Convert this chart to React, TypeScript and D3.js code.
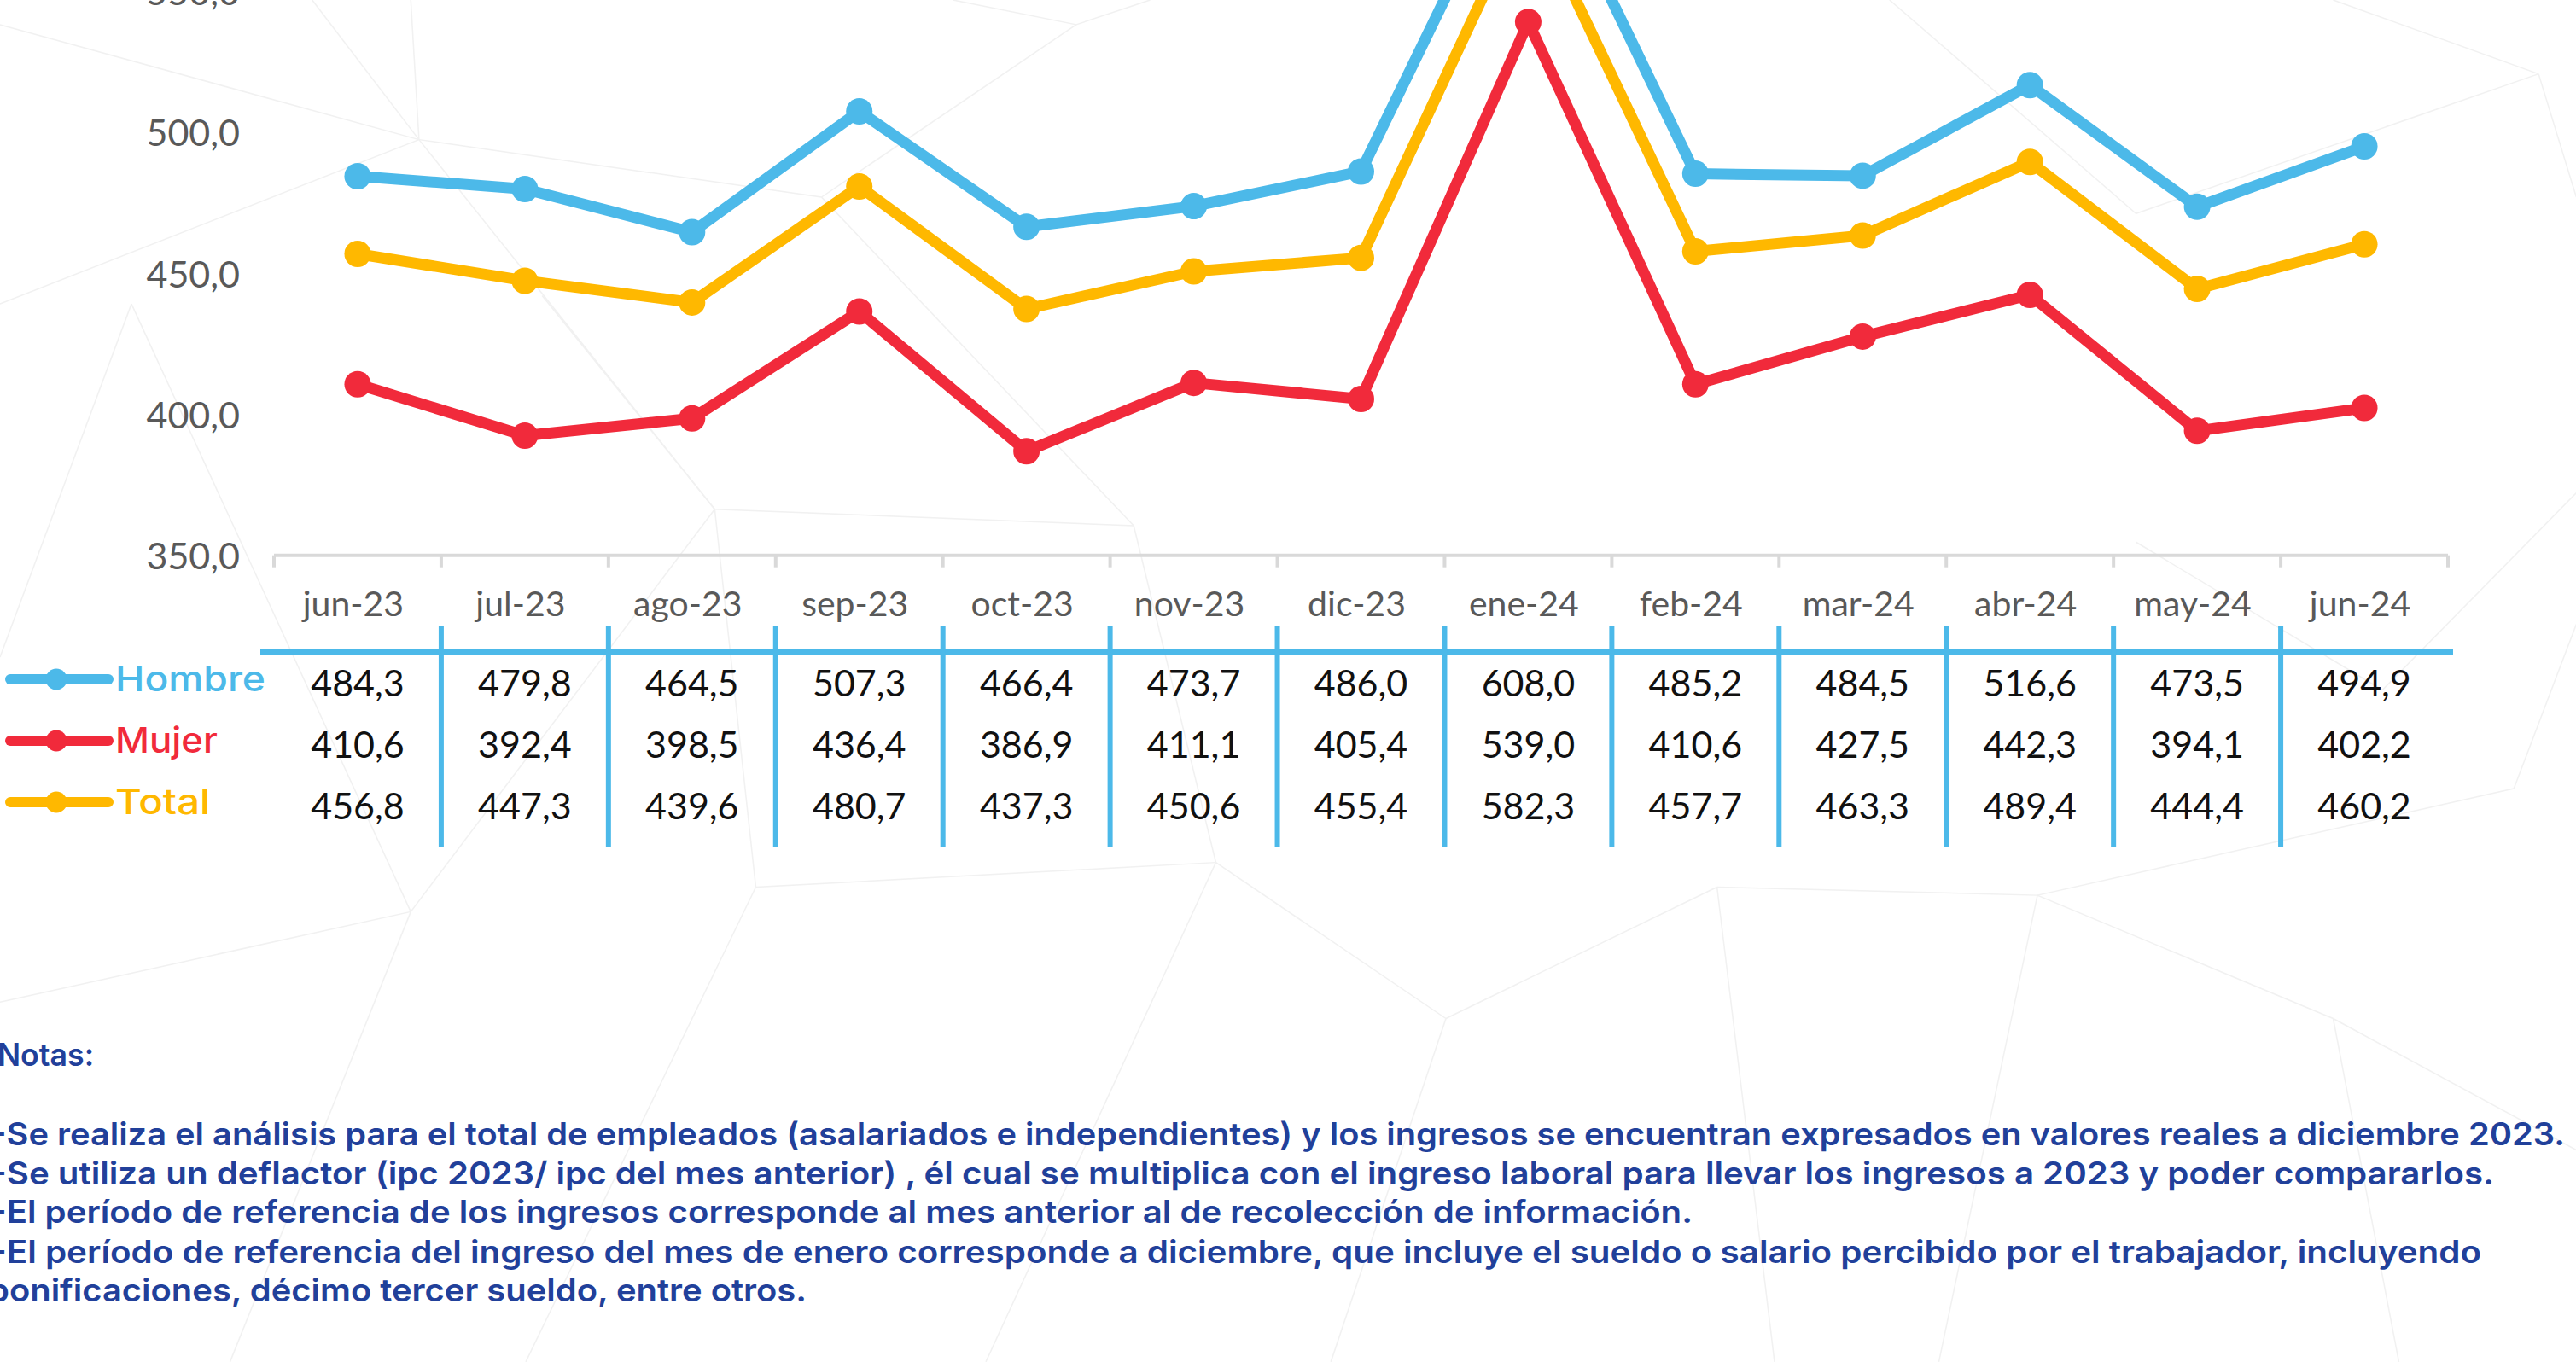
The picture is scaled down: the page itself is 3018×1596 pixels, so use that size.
import React, { useEffect } from 'react';
import * as d3 from 'd3';

// ── Data ────────────────────────────────────────────────────────────────────
const MONTHS = ['jun-23', 'jul-23', 'ago-23', 'sep-23', 'oct-23', 'nov-23', 'dic-23',
  'ene-24', 'feb-24', 'mar-24', 'abr-24', 'may-24', 'jun-24'];

const HOMBRE = [484.3, 479.8, 464.5, 507.3, 466.4, 473.7, 486.0, 608.0, 485.2, 484.5, 516.6, 473.5, 494.9];
const MUJER  = [410.6, 392.4, 398.5, 436.4, 386.9, 411.1, 405.4, 539.0, 410.6, 427.5, 442.3, 394.1, 402.2];
const TOTAL  = [456.8, 447.3, 439.6, 480.7, 437.3, 450.6, 455.4, 582.3, 457.7, 463.3, 489.4, 444.4, 460.2];

const Y_TICKS = [350, 400, 450, 500, 550];

const SERIES = [
  { name: 'Hombre', values: HOMBRE, color: '#4cb9e9' },
  { name: 'Mujer',  values: MUJER,  color: '#f12a3b' },
  { name: 'Total',  values: TOTAL,  color: '#ffb800' },
];

const NOTES = [
  'Notas:',
  '-Se realiza el análisis para el total de empleados (asalariados e independientes) y los ingresos se encuentran expresados en valores reales a diciembre 2023.',
  '-Se utiliza un deflactor (ipc 2023/ ipc del mes anterior) , él cual se multiplica con el ingreso laboral para llevar los ingresos a 2023 y poder compararlos.',
  '-El período de referencia de los ingresos corresponde al mes anterior al de recolección de información.',
  '-El período de referencia del ingreso del mes de enero corresponde a diciembre, que incluye el sueldo o salario percibido por el trabajador, incluyendo',
  'bonificaciones, décimo tercer sueldo, entre otros.',
];

// faint low-poly background (decoration only, in shrunk-picture units)
const BG = [
  [0, 15, 255, 85], [255, 85, 250, 0], [255, 85, 190, 0], [255, 85, 435, 310], [0, 185, 255, 85],
  [655, 15, 580, 0], [655, 15, 700, 0], [655, 15, 500, 120], [500, 120, 255, 85], [500, 120, 690, 320],
  [435, 310, 330, 180], [435, 310, 460, 540], [435, 310, 250, 555], [435, 310, 690, 320], [80, 185, 250, 555],
  [740, 525, 460, 540], [740, 525, 880, 620], [740, 525, 600, 829], [740, 525, 690, 320], [250, 555, 140, 829],
  [880, 620, 810, 829], [880, 620, 1045, 540], [1045, 540, 1240, 545], [1240, 545, 1420, 620],
  [1240, 545, 1530, 480], [1240, 545, 1180, 829], [1420, 620, 1568, 700], [1530, 480, 1568, 380],
  [1545, 45, 1420, 0], [1545, 45, 1568, 120], [1545, 45, 1300, 130], [1300, 130, 1150, 0],
  [1450, 420, 1568, 300], [1450, 420, 1300, 330], [460, 540, 320, 829], [0, 610, 250, 555],
  [1045, 540, 1080, 829], [0, 400, 80, 185], [1420, 620, 1460, 829],
];

const fmt = d3.formatLocale({ decimal: ',', thousands: '.', grouping: [3], currency: ['', ''] }).format('.1f');

const W = 3018, H = 1596;

export default function App() {
  useEffect(() => { document.body.style.margin = '0'; }, []);

  const x = d3.scaleBand<string>().domain(MONTHS).range([321, 2868]).padding(0);
  const bw = x.bandwidth();
  const cx = (m: string) => (x(m) as number) + bw / 2;
  const y = d3.scaleLinear().domain([350, 550]).range([650.7, -10.7]);
  const line = d3.line<number>().x((_, i) => cx(MONTHS[i])).y(d => y(d));

  const axisY = y(350);
  const boundaries = d3.range(MONTHS.length + 1).map(i => 321 + i * bw);
  const rowY = [799, 871, 943];
  const legendW = [176, 120, 111];
  const noteY = [1249, 1342, 1388, 1433, 1480, 1525];
  const noteX = [-3, -11, -11, -11, -11, -14];
  const noteEnd = [110, 3005, 2922, 1983, 2907, 945];

  const labelFont = 'Lato, "Open Sans", sans-serif';
  const noteFont = 'Inter, "Open Sans", sans-serif';

  return (
    <svg width={W} height={H} viewBox={`0 0 ${W} ${H}`}
      style={{ position: 'absolute', left: 0, top: 0, display: 'block', background: '#fff' }}>
      {/* background pattern */}
      <g stroke="#e6e6e6" strokeWidth={1.5} opacity={0.55}>
        {BG.map((s, i) => (
          <line key={i} x1={s[0] * 1.925} y1={s[1] * 1.925} x2={s[2] * 1.925} y2={s[3] * 1.925} />
        ))}
      </g>

      {/* y tick labels */}
      {Y_TICKS.map(t => (
        <text key={t} x={281} y={y(t)} textAnchor="end" dominantBaseline="central"
          fontFamily={labelFont} fontSize={43} fill="#595959">{fmt(t)}</text>
      ))}

      {/* x axis */}
      <line x1={321} x2={2868} y1={axisY} y2={axisY} stroke="#d9d9d9" strokeWidth={4} />
      {boundaries.map((b, i) => (
        <line key={i} x1={b} x2={b} y1={axisY} y2={axisY + 14} stroke="#d9d9d9" strokeWidth={4} />
      ))}
      {MONTHS.map(m => (
        <text key={m} x={cx(m) - 5} y={722} textAnchor="middle"
          fontFamily={labelFont} fontSize={41} fill="#595959">{m}</text>
      ))}

      {/* series lines */}
      {SERIES.map(s => (
        <g key={s.name}>
          <path d={line(s.values) as string} fill="none" stroke={s.color} strokeWidth={13}
            strokeLinejoin="round" />
          {s.values.map((v, i) => (
            <circle key={i} cx={cx(MONTHS[i])} cy={y(v)} r={15.5} fill={s.color} />
          ))}
        </g>
      ))}

      {/* data table */}
      <line x1={305} x2={2874} y1={764} y2={764} stroke="#4cb9e9" strokeWidth={6} />
      {boundaries.slice(1, -1).map((b, i) => (
        <line key={i} x1={b} x2={b} y1={733} y2={993} stroke="#4cb9e9" strokeWidth={6} />
      ))}
      {SERIES.map((s, r) => (
        <g key={s.name}>
          <line x1={12} x2={127} y1={rowY[r] - 3} y2={rowY[r] - 3} stroke={s.color} strokeWidth={12}
            strokeLinecap="round" />
          <circle cx={66} cy={rowY[r] - 3} r={12.5} fill={s.color} />
          <text x={135} y={rowY[r] + 11} fontFamily={noteFont} fontWeight={500} fontSize={41}
            fill={s.color} textLength={legendW[r]} lengthAdjust="spacingAndGlyphs">{s.name}</text>
          {s.values.map((v, i) => (
            <text key={i} x={cx(MONTHS[i])} y={rowY[r]} textAnchor="middle" dominantBaseline="central"
              fontFamily={labelFont} fontSize={43} fill="#111">{fmt(v)}</text>
          ))}
        </g>
      ))}

      {/* notes */}
      {NOTES.map((n, i) => (
        <text key={i} x={noteX[i]} y={noteY[i]} fontFamily={noteFont} fontWeight={600} fontSize={37}
          fill="#21409a" textLength={noteEnd[i] - noteX[i]} lengthAdjust="spacingAndGlyphs">{n}</text>
      ))}
    </svg>
  );
}
